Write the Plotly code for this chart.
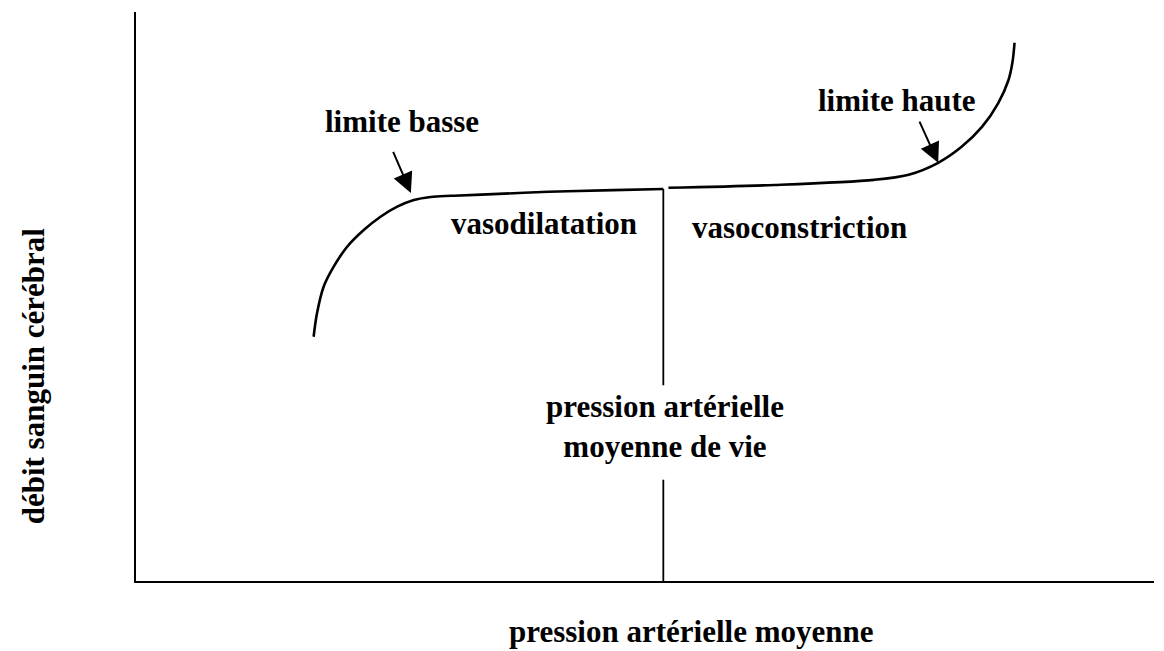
import plotly.graph_objects as go

# Schematic data (abstract units: pression 0-100, débit 0-100)
low_x = [17.45, 17.78, 18.43, 19.42, 20.74, 22.37, 24.02, 25.66, 27.29, 28.94, 31.0, 33.9, 40.5, 46.9, 51.8]
low_y = [42.93, 47.05, 51.72, 55.24, 58.75, 61.69, 64.02, 65.78, 66.96, 67.50, 67.70, 67.9, 68.4, 68.7, 68.9]

high_x = [52.3, 62.7, 72.5, 75.9, 78.8, 81.1, 83.1, 84.7, 85.7, 86.1, 86.3]
high_y = [69.1, 69.6, 70.5, 71.4, 73.5, 76.3, 79.8, 84.0, 88.0, 91.2, 94.6]

pam_x = 51.8
pam_top_y = [68.9, 34.4]
pam_bottom_y = [17.8, 0.0]

labels = {
    "limite basse": (26.1, 80.8),
    "limite haute": (74.8, 84.5),
    "vasodilatation": (40.1, 62.9),
    "vasoconstriction": (65.2, 62.2),
    "pression artérielle<br>moyenne de vie": (52.0, 27.2),
}
arrow_basse = ((25.2, 75.7), (27.0, 68.2))
arrow_haute = ((76.9, 81.0), (78.8, 73.5))

x_title = "pression artérielle moyenne"
y_title = "débit sanguin cérébral"

FONT = dict(family="Liberation Serif, Times New Roman, serif", size=31, color="black")

fig = go.Figure()
fig.add_trace(go.Scatter(x=low_x, y=low_y, mode="lines",
                         line=dict(color="black", width=2.6, shape="spline", smoothing=1.0),
                         hoverinfo="skip"))
fig.add_trace(go.Scatter(x=high_x, y=high_y, mode="lines",
                         line=dict(color="black", width=2.6, shape="spline", smoothing=0.9),
                         hoverinfo="skip"))
fig.add_trace(go.Scatter(x=[pam_x, pam_x], y=pam_top_y, mode="lines",
                         line=dict(color="black", width=1.8), hoverinfo="skip"))
fig.add_trace(go.Scatter(x=[pam_x, pam_x], y=pam_bottom_y, mode="lines",
                         line=dict(color="black", width=1.8), hoverinfo="skip"))

annotations = []
for txt, (x, y) in labels.items():
    annotations.append(dict(x=x, y=y, xref="x", yref="y", text="<b>%s</b>" % txt,
                            showarrow=False, font=FONT, align="center"))
for (tail, head) in (arrow_basse, arrow_haute):
    annotations.append(dict(x=head[0], y=head[1], ax=tail[0], ay=tail[1],
                            xref="x", yref="y", axref="x", ayref="y", text="",
                            showarrow=True, arrowhead=2, arrowsize=2.0, arrowwidth=2.0,
                            arrowcolor="black"))
annotations.append(dict(x=0.545, y=-0.088, xref="paper", yref="paper",
                        text="<b>%s</b>" % x_title, showarrow=False, font=FONT,
                        xanchor="center", yanchor="middle"))
annotations.append(dict(x=-0.101, y=0.36, xref="paper", yref="paper",
                        text="<b>%s</b>" % y_title, showarrow=False, font=FONT,
                        textangle=-90, xanchor="center", yanchor="middle"))

fig.update_layout(
    width=1164, height=651,
    margin=dict(l=136, r=10, t=12, b=70),
    paper_bgcolor="white", plot_bgcolor="white",
    showlegend=False,
    annotations=annotations,
    xaxis=dict(range=[0, 100], showgrid=False, zeroline=False, showticklabels=False,
               ticks="", showline=True, linecolor="black", linewidth=2.2, fixedrange=True),
    yaxis=dict(range=[0, 100], showgrid=False, zeroline=False, showticklabels=False,
               ticks="", showline=True, linecolor="black", linewidth=2.2, fixedrange=True),
)

fig.write_html("out.html", config={"displayModeBar": False, "staticPlot": True},
               post_script="document.body.style.margin='0';")
